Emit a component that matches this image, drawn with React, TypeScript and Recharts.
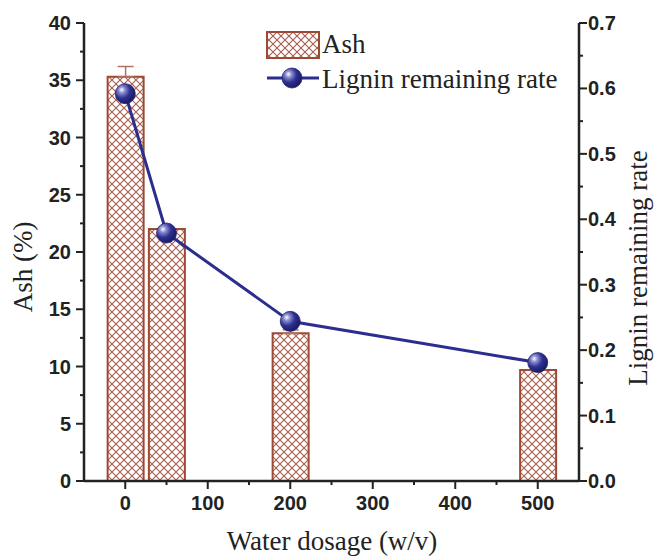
import React from 'react';
import {
  ComposedChart,
  Bar,
  Line,
  XAxis,
  YAxis,
  ErrorBar,
  Legend,
  Customized,
} from 'recharts';

const dosages = [0, 50, 200, 500];
const ash = [35.3, 22.0, 12.9, 9.7];
const ashErr = [0.9, 0, 0.3, 0];
const lignin = [0.592, 0.379, 0.244, 0.181];

const xTicks = [0, 50, 100, 150, 200, 250, 300, 350, 400, 450, 500];
const leftTicks = Array.from({ length: 17 }, (_, i) => i * 2.5);
const rightTicks = Array.from({ length: 15 }, (_, i) => Math.round(i * 5) / 100);

const data = dosages.map((d, i) => ({
  x: d,
  ash: ash[i],
  ashErr: [0, ashErr[i]],
  lignin: lignin[i],
}));

const AXIS = '#222';
const BROWN = '#9c4a36';
const NAVY = '#2b2e8e';
const SANS = '"Liberation Sans", Arial, sans-serif';
const SERIF = '"Liberation Serif", "Times New Roman", serif';

function Defs() {
  return (
    <defs>
      <pattern id="hatch" patternUnits="userSpaceOnUse" width={8} height={8}>
        <rect width={8} height={8} fill="#fff" />
        <path d="M-1 -1 L9 9 M-1 9 L9 -1" stroke="#a85e4e" strokeWidth={1.1} />
      </pattern>
      <radialGradient id="ball" cx="35%" cy="35%" r="65%" fx="32%" fy="30%">
        <stop offset="0%" stopColor="#ffffff" />
        <stop offset="25%" stopColor="#8a8cd0" />
        <stop offset="60%" stopColor="#2e3192" />
        <stop offset="100%" stopColor="#1a1c66" />
      </radialGradient>
    </defs>
  );
}

const BottomTick = (props: any) => {
  const { x, y, payload } = props;
  const v = payload.value;
  const major = v % 100 === 0;
  return (
    <g>
      <line x1={x} y1={y} x2={x} y2={y + (major ? 8 : 4)} stroke={AXIS} strokeWidth={2} />
      {major && (
        <text x={x} y={y + 29} textAnchor="middle" fontFamily={SANS} fontWeight="bold" fontSize={20} fill={AXIS}>
          {v}
        </text>
      )}
    </g>
  );
};

const TopTick = (props: any) => {
  const { x, y, payload } = props;
  const major = payload.value % 100 === 0;
  return <line x1={x} y1={y} x2={x} y2={y + (major ? 6 : 4)} stroke={AXIS} strokeWidth={2} />;
};

const LeftTick = (props: any) => {
  const { x, y, payload } = props;
  const v = payload.value;
  const major = v % 5 === 0;
  return (
    <g>
      <line x1={x} y1={y} x2={x - (major ? 8 : 4)} y2={y} stroke={AXIS} strokeWidth={2} />
      {major && (
        <text x={x - 13} y={y + 7} textAnchor="end" fontFamily={SANS} fontWeight="bold" fontSize={20} fill={AXIS}>
          {v}
        </text>
      )}
    </g>
  );
};

const RightTick = (props: any) => {
  const { x, y, payload } = props;
  const v = payload.value;
  const major = Math.round(v * 100) % 10 === 0;
  return (
    <g>
      <line x1={x} y1={y} x2={x + (major ? 8 : 4)} y2={y} stroke={AXIS} strokeWidth={2} />
      {major && (
        <text x={x + 9} y={y + 7} textAnchor="start" fontFamily={SANS} fontWeight="bold" fontSize={20} fill={AXIS}>
          {v.toFixed(1)}
        </text>
      )}
    </g>
  );
};

const BallDot = (props: any) => {
  const { cx, cy, index } = props;
  if (cx == null || cy == null) return null;
  return <circle key={index} cx={cx} cy={cy} r={10} fill="url(#ball)" stroke="#23256f" strokeWidth={0.8} />;
};

const Titles = () => (
  <g fontFamily={SERIF} fontSize={27} fill={AXIS}>
    <text x={332} y={550} textAnchor="middle">
      Water dosage (w/v)
    </text>
    <text x={32} y={267} textAnchor="middle" transform="rotate(-90, 32, 267)">
      Ash (%)
    </text>
    <text x={647} y={268} textAnchor="middle" transform="rotate(-90, 647, 268)">
      Lignin remaining rate
    </text>
  </g>
);

const LegendBox = () => (
  <svg width={300} height={70} style={{ display: 'block', overflow: 'visible' }}>
    <rect x={2} y={4} width={52} height={26} fill="url(#hatch)" stroke={BROWN} strokeWidth={2} />
    <text x={57} y={25} fontFamily={SERIF} fontSize={27} fill={AXIS}>
      Ash
    </text>
    <line x1={2} y1={50} x2={54} y2={50} stroke={NAVY} strokeWidth={3} />
    <circle cx={27} cy={50} r={10} fill="url(#ball)" stroke="#23256f" strokeWidth={0.8} />
    <text x={57} y={60} fontFamily={SERIF} fontSize={27} fill={AXIS}>
      Lignin remaining rate
    </text>
  </svg>
);

export default function App() {
  return (
    <div style={{ position: 'absolute', left: 0, top: 0, background: '#fff' }}>
      <ComposedChart
        width={656}
        height={557}
        data={data}
        margin={{ top: 23, right: 0, bottom: 0, left: 0 }}
      >
        <Customized component={Defs} />
        <XAxis
          xAxisId="bottom"
          dataKey="x"
          type="number"
          domain={[-50, 550]}
          ticks={xTicks}
          interval={0}
          height={76}
          tickSize={0}
          tickMargin={0}
          tickLine={false}
          tick={<BottomTick />}
          axisLine={{ stroke: AXIS, strokeWidth: 2.5 }}
          allowDataOverflow
        />
        <XAxis
          xAxisId="top"
          orientation="top"
          dataKey="x"
          type="number"
          domain={[-50, 550]}
          ticks={xTicks}
          interval={0}
          height={0}
          tickSize={0}
          tickMargin={0}
          tickLine={false}
          tick={<TopTick />}
          axisLine={{ stroke: AXIS, strokeWidth: 2.5 }}
          allowDataOverflow
        />
        <YAxis
          yAxisId="left"
          domain={[0, 40]}
          ticks={leftTicks}
          interval={0}
          width={84}
          tickSize={0}
          tickMargin={0}
          tickLine={false}
          tick={<LeftTick />}
          axisLine={{ stroke: AXIS, strokeWidth: 2.5 }}
        />
        <YAxis
          yAxisId="right"
          orientation="right"
          domain={[0, 0.7]}
          ticks={rightTicks}
          interval={0}
          width={77}
          tickSize={0}
          tickMargin={0}
          tickLine={false}
          tick={<RightTick />}
          axisLine={{ stroke: AXIS, strokeWidth: 2.5 }}
        />
        <Bar
          xAxisId="bottom"
          yAxisId="left"
          dataKey="ash"
          barSize={36}
          fill="url(#hatch)"
          stroke={BROWN}
          strokeWidth={2}
          isAnimationActive={false}
        >
          <ErrorBar dataKey="ashErr" width={8} stroke="#b07464" strokeWidth={1.5} direction="y" />
        </Bar>
        <Line
          xAxisId="bottom"
          yAxisId="right"
          dataKey="lignin"
          type="linear"
          stroke={NAVY}
          strokeWidth={3}
          dot={<BallDot />}
          activeDot={false}
          isAnimationActive={false}
        />
        <Legend
          layout="vertical"
          align="center"
          verticalAlign="middle"
          content={<LegendBox />}
          wrapperStyle={{ position: 'absolute', left: 265, top: 28, width: 300, height: 70 }}
        />
        <Customized component={Titles} />
      </ComposedChart>
    </div>
  );
}
